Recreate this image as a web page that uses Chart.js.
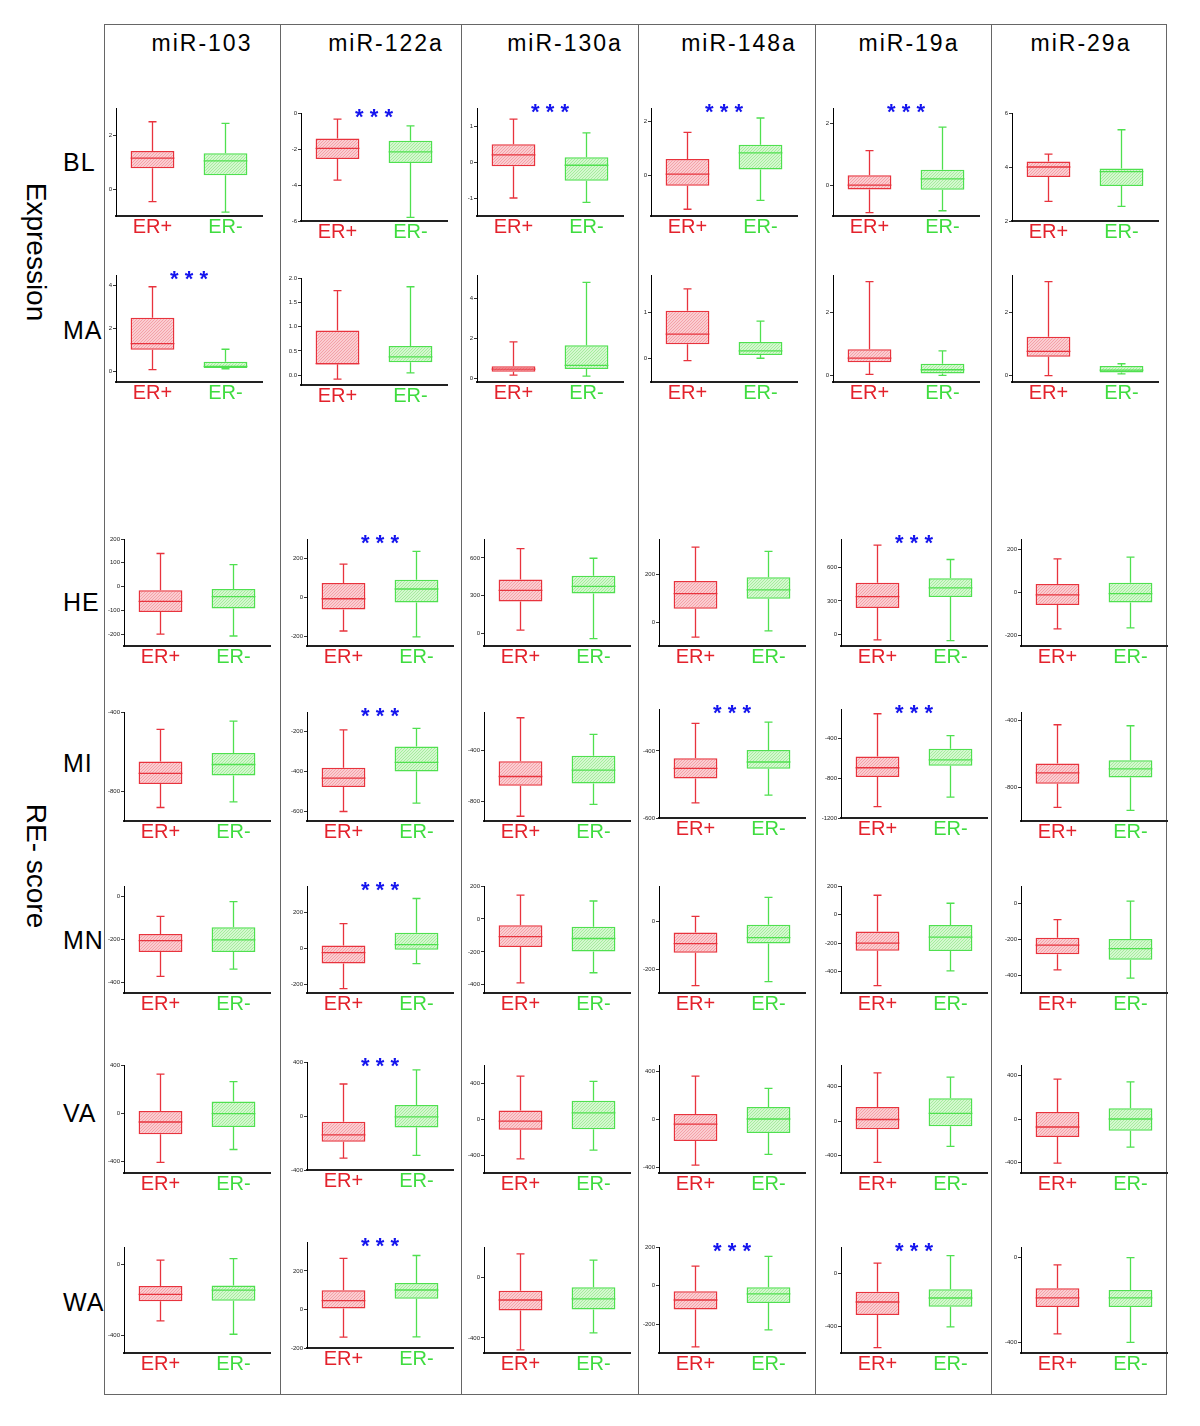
<!DOCTYPE html>
<html>
<head>
<meta charset="utf-8">
<script src="https://cdn.jsdelivr.net/npm/chart.js@4.4.0/dist/chart.umd.min.js"></script>
<style>
  body { margin: 0; background: #fff; width: 1200px; height: 1426px; position: relative; overflow: hidden;
         font-family: "Liberation Sans", Arial, sans-serif; color: #000; }
  .frame { position: absolute; border: 1px solid #666; }
  .sep { position: absolute; top: 24px; height: 1370px; border-left: 1px solid #666; }
  .title { position: absolute; top: 32px; font-size: 23px; line-height: 23px; letter-spacing: 2px;
           transform: translateX(-50%); white-space: nowrap; }
  .rowlab { position: absolute; left: 63px; font-size: 25px; line-height: 25px; letter-spacing: 1px; }
  .side { position: absolute; left: 36px; font-size: 28px; line-height: 28px; white-space: nowrap;
          transform: translate(-50%, -50%) rotate(90deg); }
  canvas { position: absolute; }
</style>
</head>
<body>
<script>
// ---- data: [min, q1, median, q3, max] per miRNA ----
const genes = ['miR-103', 'miR-122a', 'miR-130a', 'miR-148a', 'miR-19a', 'miR-29a']
const groups = ['ER+', 'ER-']

const BL_pos = [[-0.47, 0.77, 1.14, 1.41, 2.49], [-3.73, -2.55, -1.97, -1.41, -0.34], [-1.0, -0.12, 0.2, 0.49, 1.19],
                [-1.25, -0.38, 0.05, 0.61, 1.6], [-0.89, -0.14, 0.0, 0.32, 1.12], [2.73, 3.63, 4.0, 4.2, 4.48]]
const BL_neg = [[-0.86, 0.51, 1.04, 1.32, 2.43], [-5.8, -2.78, -2.16, -1.54, -0.71], [-1.12, -0.52, -0.09, 0.13, 0.81],
                [-0.92, 0.22, 0.84, 1.14, 2.13], [-0.83, -0.15, 0.2, 0.5, 1.88], [2.54, 3.3, 3.83, 3.94, 5.38]]
const BL_range = [[-1, 3], [-6, 0], [-1.5, 1.5], [-1.5, 2.5], [-1, 2.5], [2, 6]]
const BL_ticks = [['0', '2'], ['-6', '-4', '-2', '0'], ['-1', '0', '1'], ['0', '2'], ['0', '2'], ['2', '4', '6']]
const BL_stars = [false, true, true, true, true, false]

const MA_pos = [[0.08, 1.01, 1.29, 2.5, 3.95], [-0.08, 0.22, 0.24, 0.92, 1.74], [0.15, 0.32, 0.45, 0.6, 1.82],
                [-0.04, 0.31, 0.53, 1.03, 1.5], [0.04, 0.43, 0.56, 0.84, 2.99], [0.0, 0.6, 0.77, 1.24, 2.99]]
const MA_neg = [[0.12, 0.16, 0.23, 0.45, 1.03], [0.05, 0.27, 0.38, 0.6, 1.82], [0.1, 0.46, 0.64, 1.65, 4.83],
                [0.01, 0.08, 0.17, 0.36, 0.81], [0.01, 0.07, 0.19, 0.38, 0.79], [0.06, 0.1, 0.18, 0.31, 0.38]]
const MA_range = [[-0.5, 4.5], [-0.2, 2.0], [-0.2, 5.2], [-0.5, 1.8], [-0.2, 3.2], [-0.2, 3.2]]
const MA_ticks = [['0', '2', '4'], ['0.0', '0.5', '1.0', '1.5', '2.0'], ['0', '2', '4'], ['0', '1'], ['0', '2'], ['0', '2']]
const MA_stars = [true, false, false, false, false, false]

const HE_pos = [[-200, -107, -62, -16, 139], [-173, -62, -7, 74, 171], [26, 253, 342, 429, 674],
                [-63, 57, 120, 173, 316], [-45, 238, 339, 461, 796], [-170, -58, -11, 40, 157]]
const HE_neg = [[-208, -92, -42, -10, 92], [-203, -27, 43, 91, 236], [-42, 318, 374, 458, 597],
                [-36, 99, 136, 189, 298], [-53, 336, 416, 502, 668], [-165, -47, -5, 45, 165]]
const HE_range = [[-250, 200], [-250, 300], [-100, 750], [-100, 350], [-100, 850], [-250, 250]]
const HE_ticks = [['-200', '-100', '0', '100', '200'], ['-200', '0', '200'], ['0', '300', '600'],
                  ['0', '200'], ['0', '300', '600'], ['-200', '0', '200']]
const HE_stars = [false, true, false, false, true, false]

const MI_pos = [[-882, -763, -710, -650, -488], [-602, -478, -434, -381, -190], [-913, -676, -603, -484, -145],
                [-555, -482, -452, -422, -318], [-1086, -786, -693, -579, -148], [-919, -778, -713, -657, -426]]
const MI_neg = [[-854, -720, -665, -607, -446], [-560, -400, -354, -274, -183], [-821, -658, -553, -442, -274],
                [-532, -453, -433, -397, -314], [-990, -672, -614, -500, -369], [-937, -741, -689, -638, -432]]
const MI_range = [[-950, -400], [-650, -100], [-950, -100], [-600, -275], [-1200, -100], [-1000, -350]]
const MI_ticks = [['-800', '-400'], ['-600', '-400', '-200'], ['-800', '-400'], ['-600', '-400'],
                  ['-1200', '-800', '-400'], ['-800', '-400']]
const MI_stars = [false, true, false, true, true, false]

const MN_pos = [[-372, -258, -205, -174, -92], [-225, -85, -24, 17, 139], [-388, -170, -107, -38, 145],
                [-269, -131, -92, -46, 22], [-498, -253, -200, -119, 135], [-370, -283, -231, -190, -89]]
const MN_neg = [[-338, -258, -202, -143, -23], [-85, -8, 21, 88, 280], [-327, -198, -119, -48, 109],
                [-252, -92, -67, -13, 102], [-395, -256, -158, -74, 79], [-417, -313, -251, -197, 15]]
const MN_range = [[-450, 50], [-250, 350], [-450, 200], [-300, 150], [-550, 200], [-500, 100]]
const MN_ticks = [['-400', '-200', '0'], ['-200', '0', '200'], ['-400', '-200', '0', '200'], ['-200', '0'],
                  ['-400', '-200', '0', '200'], ['-400', '-200', '0']]
const MN_stars = [false, true, false, false, false, false]

const VA_pos = [[-412, -178, -75, 17, 324], [-312, -190, -140, -42, 237], [-444, -120, -23, 94, 477],
                [-384, -184, -42, 42, 357], [-478, -93, 19, 163, 559], [-409, -167, -74, 65, 369]]
const VA_neg = [[-304, -117, -6, 95, 262], [-292, -85, -7, 82, 342], [-346, -113, 68, 203, 417],
                [-295, -117, 0, 100, 256], [-291, -58, 89, 264, 509], [-260, -109, 0, 99, 344]]
const VA_range = [[-500, 400], [-400, 400], [-600, 600], [-450, 450], [-600, 650], [-500, 500]]
const VA_ticks = [['-400', '0', '400'], ['-400', '0', '400'], ['-400', '0', '400'], ['-400', '0', '400'],
                  ['-400', '0', '400'], ['-400', '0', '400']]
const VA_stars = [false, true, false, false, false, false]

const WA_pos = [[-318, -207, -168, -121, 26], [-144, 5, 46, 99, 265], [-480, -220, -150, -89, 154],
                [-318, -124, -75, -29, 101], [-560, -313, -215, -138, 78], [-360, -233, -190, -144, -34]]
const WA_neg = [[-394, -204, -144, -118, 34], [-142, 56, 101, 137, 280], [-367, -213, -143, -65, 113],
                [-230, -91, -43, -9, 151], [-403, -250, -185, -118, 135], [-400, -233, -190, -153, 0]]
const WA_range = [[-500, 100], [-200, 350], [-500, 200], [-350, 200], [-600, 200], [-450, 50]]
const WA_ticks = [['-400', '0'], ['-200', '0', '200'], ['-400', '0'], ['-200', '0', '200'], ['-400', '0'], ['-400', '0']]
const WA_stars = [false, true, false, true, true, false]

// ---- layout ----
const FRAME_X = [104, 280, 461, 638, 815, 991, 1166]
const TITLE_X = [202, 386, 565, 739, 909, 1081]
const AXIS_X_EXPR = [116, 301, 477, 651, 833, 1012]
const AXIS_X_RE = [124, 307, 484, 659, 841, 1021]
const PLOT_W = 146

const ROWS = [
    { name: 'BL', pos: BL_pos, neg: BL_neg, range: BL_range, ticks: BL_ticks, stars: BL_stars, top: 108, bottom: 216, label: 162, dy: [0, 5, 0, 0, 0, 5] },
    { name: 'MA', pos: MA_pos, neg: MA_neg, range: MA_range, ticks: MA_ticks, stars: MA_stars, top: 275, bottom: 382, label: 330, dy: [0, 3, 0, 0, 0, 0] },
    { name: 'HE', pos: HE_pos, neg: HE_neg, range: HE_range, ticks: HE_ticks, stars: HE_stars, top: 539, bottom: 646, label: 602, dy: [0, 0, 0, 0, 0, 0] },
    { name: 'MI', pos: MI_pos, neg: MI_neg, range: MI_range, ticks: MI_ticks, stars: MI_stars, top: 712, bottom: 821, label: 763, dy: [0, 0, 0, -3, -3, 0] },
    { name: 'MN', pos: MN_pos, neg: MN_neg, range: MN_range, ticks: MN_ticks, stars: MN_stars, top: 886, bottom: 993, label: 940, dy: [0, 0, 0, 0, 0, 0] },
    { name: 'VA', pos: VA_pos, neg: VA_neg, range: VA_range, ticks: VA_ticks, stars: VA_stars, top: 1065, bottom: 1173, label: 1113, dy: [0, -3, 0, 0, 0, 0] },
    { name: 'WA', pos: WA_pos, neg: WA_neg, range: WA_range, ticks: WA_ticks, stars: WA_stars, top: 1247, bottom: 1353, label: 1302, dy: [0, -5, 0, 0, 0, 0] },
]

const RED = '#e8333d', GREEN = '#4fe04f'
const RED_TEXT = '#e3222c', GREEN_TEXT = '#3fdc3f'
const STAR_BLUE = '#1414ee'

const hatch = (base, line) => {
    const c = document.createElement('canvas')
    c.width = c.height = 3
    const g = c.getContext('2d')
    g.fillStyle = base
    g.fillRect(0, 0, 3, 3)
    g.strokeStyle = line
    g.lineWidth = 1
    g.beginPath()
    g.moveTo(0, 3); g.lineTo(3, 0)
    g.stroke()
    return g.createPattern(c, 'repeat')
}
const RED_FILL = hatch('#fbcdd1', '#f3a2a8')
const GREEN_FILL = hatch('#d4f8cf', '#a6ec9e')

Chart.defaults.font.family = '"Liberation Sans", Arial, sans-serif'

// whiskers, caps, median and the *** marker, drawn through the chart's own scales
const boxWhisker = {
    id: 'boxWhisker',
    afterDatasetsDraw(chart, args, opts) {
        const { ctx, chartArea, scales: { y } } = chart
        const meta = chart.getDatasetMeta(0)
        opts.stats.forEach((s, i) => {
            const bar = meta.data[i]
            const x = bar.x, half = bar.width / 2
            ctx.save()
            ctx.strokeStyle = opts.colors[i]
            ctx.lineWidth = 1.3
            ctx.beginPath()
            ctx.moveTo(x, y.getPixelForValue(s[4])); ctx.lineTo(x, y.getPixelForValue(s[3]))
            ctx.moveTo(x, y.getPixelForValue(s[1])); ctx.lineTo(x, y.getPixelForValue(s[0]))
            ;[s[0], s[4]].forEach(v => {
                const py = y.getPixelForValue(v)
                ctx.moveTo(x - 4, py); ctx.lineTo(x + 4, py)
            })
            const m = y.getPixelForValue(s[2])
            ctx.moveTo(x - half, m); ctx.lineTo(x + half, m)
            ctx.stroke()
            ctx.restore()
        })
        if (opts.star) {
            ctx.save()
            ctx.fillStyle = STAR_BLUE
            ctx.font = 'bold 22px "Liberation Sans", Arial, sans-serif'
            ctx.textAlign = 'center'
            ctx.textBaseline = 'alphabetic'
            ctx.fillText('* * *', (chartArea.left + chartArea.right) / 2, chartArea.top + 11)
            ctx.restore()
        }
    }
}

const PAD_L = 30, PAD_T = 16, PAD_R = 4, PAD_B = 30

const createBoxChart = (left, top, h, pos, neg, range, tickLabels, star) => {
    const canvas = document.createElement('canvas')
    canvas.width = PAD_L + PLOT_W + PAD_R
    canvas.height = PAD_T + h + PAD_B
    canvas.style.left = (left - PAD_L) + 'px'
    canvas.style.top = (top - PAD_T) + 'px'
    document.body.appendChild(canvas)

    const tickValues = tickLabels.map(t => parseFloat(t))
    const stats = [pos, neg]

    return new Chart(canvas, {
        type: 'bar',
        data: {
            labels: groups,
            datasets: [{
                data: stats.map(s => [s[1], s[3]]),
                backgroundColor: [RED_FILL, GREEN_FILL],
                borderColor: [RED, GREEN],
                borderWidth: 1.5,
                borderSkipped: false,
                barPercentage: 0.6,
                categoryPercentage: 1.0,
            }]
        },
        options: {
            responsive: false,
            animation: false,
            events: [],
            layout: { padding: { top: PAD_T, right: PAD_R, left: 0, bottom: 0 } },
            plugins: {
                legend: { display: false },
                tooltip: { enabled: false },
                boxWhisker: { stats: stats, colors: [RED, GREEN], star: star },
            },
            scales: {
                x: {
                    offset: true,
                    grid: { display: false },
                    border: { display: true, color: '#222', width: 2 },
                    ticks: {
                        color: c => c.index === 0 ? RED_TEXT : GREEN_TEXT,
                        font: { size: 20, lineHeight: 1 },
                        padding: -7,
                        maxRotation: 0,
                        autoSkip: false,
                    },
                    afterFit: s => { s.height = PAD_B },
                },
                y: {
                    min: range[0],
                    max: range[1],
                    grid: { display: true, drawOnChartArea: false, drawTicks: true, tickLength: 3, color: '#000', lineWidth: 0.8 },
                    border: { display: true, color: '#000', width: 1 },
                    ticks: {
                        font: { size: 6 },
                        color: '#222',
                        padding: 1,
                        callback: (v, i) => tickLabels[i],
                    },
                    afterBuildTicks: s => { s.ticks = tickValues.map(v => ({ value: v })) },
                    afterFit: s => { s.width = PAD_L },
                }
            }
        },
        plugins: [boxWhisker]
    })
}

// ---- page furniture ----
const addDiv = (cls, text, style) => {
    const d = document.createElement('div')
    d.className = cls
    if (text) d.textContent = text
    Object.assign(d.style, style)
    document.body.appendChild(d)
    return d
}

addDiv('frame', '', { left: FRAME_X[0] + 'px', top: '24px', width: (FRAME_X[6] - FRAME_X[0] - 1) + 'px', height: '1369px' })
FRAME_X.slice(1, 6).forEach(x => addDiv('sep', '', { left: x + 'px' }))
genes.forEach((g, i) => addDiv('title', g, { left: TITLE_X[i] + 'px' }))
addDiv('side', 'Expression', { top: '252px' })
addDiv('side', 'RE- score', { top: '866px' })

ROWS.forEach((row, r) => {
    addDiv('rowlab', row.name, { top: (row.label - 12) + 'px' })
    const axisX = r < 2 ? AXIS_X_EXPR : AXIS_X_RE
    genes.forEach((g, c) => {
        const top = row.top + row.dy[c]
        const h = row.bottom - row.top
        createBoxChart(axisX[c], top, h, row.pos[c], row.neg[c], row.range[c], row.ticks[c], row.stars[c])
    })
})
</script>
</body>
</html>
